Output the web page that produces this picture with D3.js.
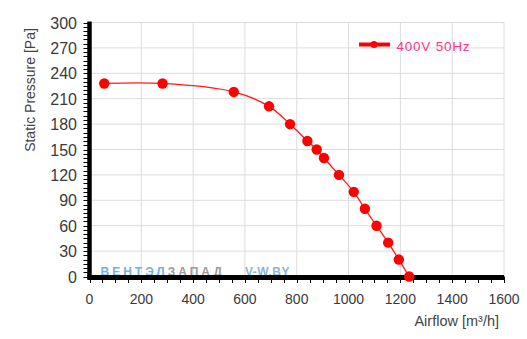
<!DOCTYPE html>
<html>
<head>
<meta charset="utf-8">
<script src="https://cdn.jsdelivr.net/npm/d3@7"></script>
<style>
  html, body { margin: 0; padding: 0; background: #fff; }
  svg { display: block; font-family: "Liberation Sans", Arial, sans-serif; }
</style>
</head>
<body>
<svg id="chart" width="527" height="339"></svg>
<script>
// Fan curve: static pressure vs airflow
const seriesName = "400V 50Hz";
const airflow  = [57, 282, 557, 693, 774, 841, 877, 905, 963, 1020, 1063, 1108, 1153, 1194, 1234];
const pressure = [228, 228, 218, 201, 180, 160, 150, 140, 120, 100, 80, 60, 40, 20, 0];
const xTicks = [0, 200, 400, 600, 800, 1000, 1200, 1400, 1600];
const yTicks = [0, 30, 60, 90, 120, 150, 180, 210, 240, 270, 300];

const svg = d3.select("#chart");
const plotLeft = 89.5, plotRight = 504, plotTop = 22.5, plotBottom = 276.5;

const x = d3.scaleLinear().domain([0, 1600]).range([plotLeft, plotRight]);
const y = d3.scaleLinear().domain([0, 300]).range([plotBottom, plotTop]);

// grid
const grid = svg.append("g").attr("stroke", "#dcdcdc").attr("stroke-width", 1);
grid.selectAll("line.v").data(xTicks.slice(1)).join("line")
  .attr("x1", d => x(d)).attr("x2", d => x(d))
  .attr("y1", y(300)).attr("y2", y(0));
grid.selectAll("line.h").data(yTicks.slice(1)).join("line")
  .attr("x1", x(0)).attr("x2", x(1600))
  .attr("y1", d => y(d)).attr("y2", d => y(d));

// watermark
const wm = svg.append("text")
  .attr("x", 100.5).attr("y", 276)
  .attr("font-size", 12).attr("font-weight", "bold")
  .attr("letter-spacing", 3).attr("opacity", 0.85);
wm.append("tspan").attr("fill", "#5aa5dc").text("ВЕНТЭЛ");
wm.append("tspan").attr("fill", "#8a8a8a").text("ЗАПАД");
wm.append("tspan").attr("fill", "#7aa8cc").attr("x", 245).attr("letter-spacing", 0.5).text("V-W.BY");

// minor ticks
const yMinor = d3.range(0, 301, 5);
svg.append("g").attr("stroke", "#000").attr("stroke-width", 1)
  .selectAll("line").data(yMinor).join("line")
  .attr("x1", plotLeft - 6).attr("x2", plotLeft)
  .attr("y1", d => Math.round(y(d)) + 0.5).attr("y2", d => Math.round(y(d)) + 0.5);
const xMinor = d3.range(0, 1601, 50);
svg.append("g").attr("stroke", "#000").attr("stroke-width", 1)
  .selectAll("line").data(xMinor).join("line")
  .attr("x1", d => Math.round(x(d)) + 0.5).attr("x2", d => Math.round(x(d)) + 0.5)
  .attr("y1", plotBottom).attr("y2", plotBottom + 6.5);

// thick axis lines
svg.append("line").attr("x1", plotLeft).attr("x2", plotLeft)
  .attr("y1", y(300) - 1).attr("y2", plotBottom + 3)
  .attr("stroke", "#000").attr("stroke-width", 4.5);
svg.append("line").attr("x1", plotLeft - 2).attr("x2", plotRight)
  .attr("y1", plotBottom + 1).attr("y2", plotBottom + 1)
  .attr("stroke", "#000").attr("stroke-width", 5);

// tick labels
svg.append("g").attr("fill", "#3a3a3a").attr("font-size", 16).attr("text-anchor", "end")
  .selectAll("text").data(yTicks).join("text")
  .attr("x", 77).attr("y", d => y(d) + 6).text(d => d);
svg.append("g").attr("fill", "#3a3a3a").attr("font-size", 14).attr("text-anchor", "middle")
  .selectAll("text").data(xTicks).join("text")
  .attr("x", d => x(d)).attr("y", 303.5).text(d => d);

// axis titles
svg.append("text").attr("transform", "translate(34.5,90) rotate(-90)")
  .attr("text-anchor", "middle").attr("font-size", 14).attr("fill", "#444")
  .text("Static Pressure [Pa]");
svg.append("text").attr("x", 499).attr("y", 326)
  .attr("text-anchor", "end").attr("font-size", 14.5).attr("fill", "#444")
  .text("Airflow [m³/h]");

// curve
const pts = airflow.map((a, i) => [a, pressure[i]]);
const line = d3.line().x(d => x(d[0])).y(d => y(d[1])).curve(d3.curveCatmullRom);
svg.append("path").attr("d", line(pts))
  .attr("fill", "none").attr("stroke", "#ff1a1a").attr("stroke-width", 1.3);
svg.append("g").attr("fill", "#ff0000")
  .selectAll("circle").data(pts).join("circle")
  .attr("cx", d => x(d[0])).attr("cy", d => y(d[1])).attr("r", 5.2);

// legend
svg.append("line").attr("x1", 359).attr("x2", 390).attr("y1", 44.5).attr("y2", 44.5)
  .attr("stroke", "#ff0000").attr("stroke-width", 4);
svg.append("circle").attr("cx", 374).attr("cy", 44.5).attr("r", 3.5).attr("fill", "#ff0000");
svg.append("text").attr("x", 396.5).attr("y", 50.5)
  .attr("font-size", 13.5).attr("fill", "#f23a8a")
  .attr("textLength", 73).attr("lengthAdjust", "spacing")
  .text(seriesName);
</script>
</body>
</html>
